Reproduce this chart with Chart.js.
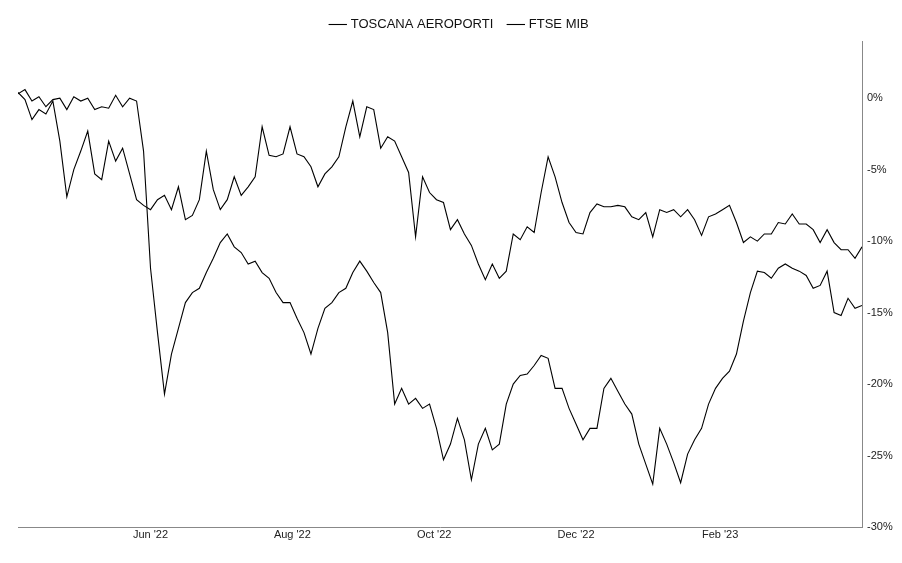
<!DOCTYPE html>
<html>
<head>
<meta charset="utf-8">
<script src="https://cdn.jsdelivr.net/npm/chart.js@4/dist/chart.umd.min.js"></script>
<style>
  html, body { margin: 0; padding: 0; background: #fff; }
  #wrap { width: 902px; height: 563px; }
</style>
</head>
<body>
<div id="wrap"><canvas id="myChart" width="902" height="563"></canvas></div>
<script>
// series names
let seriesNames = ["TOSCANA AEROPORTI", "FTSE MIB"];

// x tick labels and their position in days from the first point
let tickLabels = ["Jun '22", "Aug '22", "Oct '22", "Dec '22", "Feb '23"];
let tickDays = [57, 118, 179, 240, 302];

// y ticks (% change)
let yTicks = [0, -5, -10, -15, -20, -25, -30];

// % change, one value every 3 calendar days
let toscana = [
    0.3, 0.6, -0.2, 0.1, -0.6, -0.1, 0.0, -0.8, 0.1, -0.2,
    0.0, -0.8, -0.6, -0.7, 0.2, -0.6, 0.0, -0.2, -3.7, -11.9,
    -16.4, -20.7, -17.9, -16.1, -14.3, -13.6, -13.3, -12.2, -11.2, -10.1,
    -9.5, -10.4, -10.8, -11.6, -11.4, -12.2, -12.6, -13.6, -14.3, -14.3,
    -15.4, -16.4, -17.9, -16.1, -14.7, -14.3, -13.6, -13.3, -12.2, -11.4,
    -12.1, -12.9, -13.6, -16.4, -21.4, -20.3, -21.4, -21.0, -21.7, -21.4,
    -23.1, -25.3, -24.2, -22.4, -23.9, -26.7, -24.2, -23.1, -24.6, -24.2,
    -21.4, -20.0, -19.4, -19.3, -18.7, -18.0, -18.2, -20.3, -20.3, -21.7,
    -22.8, -23.9, -23.1, -23.1, -20.3, -19.6, -20.5, -21.4, -22.1, -24.2,
    -25.6, -27.0, -23.1, -24.2, -25.5, -26.9, -24.9, -23.9, -23.1, -21.4,
    -20.3, -19.6, -19.1, -17.9, -15.6, -13.6, -12.1, -12.2, -12.6, -11.9,
    -11.6, -11.9, -12.1, -12.4, -13.3, -13.1, -12.1, -15.0, -15.2, -14.0,
    -14.7, -14.5
];

let ftseMib = [
    0.4, -0.1, -1.5, -0.8, -1.1, -0.2, -3.0, -6.9, -5.0, -3.7,
    -2.3, -5.3, -5.7, -3.0, -4.4, -3.5, -5.3, -7.1, -7.5, -7.8,
    -7.1, -6.8, -7.8, -6.2, -8.5, -8.2, -7.1, -3.7, -6.4, -7.8,
    -7.1, -5.5, -6.8, -6.2, -5.5, -2.0, -4.0, -4.1, -3.9, -2.0,
    -3.9, -4.1, -4.8, -6.2, -5.3, -4.8, -4.1, -2.0, -0.2, -2.7,
    -0.6, -0.8, -3.5, -2.7, -3.0, -4.1, -5.2, -9.7, -5.5, -6.6,
    -7.1, -7.3, -9.2, -8.5, -9.5, -10.3, -11.6, -12.7, -11.6, -12.6,
    -12.1, -9.5, -9.9, -9.0, -9.4, -6.6, -4.1, -5.5, -7.3, -8.7,
    -9.4, -9.5, -8.0, -7.4, -7.6, -7.6, -7.5, -7.6, -8.3, -8.5,
    -8.0, -9.7, -7.8, -8.0, -7.8, -8.3, -7.8, -8.5, -9.6, -8.3,
    -8.1, -7.8, -7.5, -8.7, -10.1, -9.7, -10.0, -9.5, -9.5, -8.7,
    -8.8, -8.1, -8.8, -8.8, -9.2, -10.1, -9.2, -10.1, -10.6, -10.6,
    -11.2, -10.4
];

// build x/y points (x = days from start)
function toPoints(values) {
    let pts = [];
    for (let i = 0; i < values.length; i++) {
        pts.push({x: i * 3, y: values[i]});
    }
    return pts;
}

let ctx = document.getElementById("myChart");
let fontFam = "'Liberation Sans', Arial, sans-serif";

let myChart = new Chart(ctx, {
    type: 'line',
    data: {
        datasets: [{
            label: seriesNames[0],
            data: toPoints(toscana),
            borderColor: '#000',
            backgroundColor: '#000',
            borderWidth: 1.1,
            pointRadius: 0,
            tension: 0
        }, {
            label: seriesNames[1],
            data: toPoints(ftseMib),
            borderColor: '#000',
            backgroundColor: '#000',
            borderWidth: 1.1,
            pointRadius: 0,
            tension: 0
        }]
    },
    options: {
        responsive: false,
        animation: false,
        layout: {padding: {left: 18, right: 0, top: 2, bottom: 4}},
        plugins: {
            legend: {
                display: true,
                position: 'top',
                align: 'center',
                labels: {
                    usePointStyle: true,
                    pointStyle: 'line',
                    boxWidth: 14,
                    color: '#111',
                    font: {family: fontFam, size: 13},
                    padding: 16
                }
            },
            tooltip: {enabled: false}
        },
        scales: {
            x: {
                type: 'linear',
                min: 0,
                max: 363,
                grid: {display: false, drawTicks: false},
                border: {display: true, color: '#888', dash: [1, 3]},
                afterBuildTicks: function (scale) {
                    scale.ticks = tickDays.map(d => ({value: d}));
                },
                ticks: {
                    autoSkip: false,
                    maxRotation: 0,
                    color: '#222',
                    font: {family: fontFam, size: 11},
                    padding: 1,
                    callback: function (value) {
                        let i = tickDays.indexOf(value);
                        return i >= 0 ? tickLabels[i] : '';
                    }
                },
                afterFit: function (scale) { scale.height = 32; }
            },
            y: {
                position: 'right',
                min: -30,
                max: 4,
                grid: {display: false, drawTicks: false},
                border: {display: true, color: '#888', dash: [1, 3]},
                afterBuildTicks: function (scale) {
                    scale.ticks = yTicks.map(v => ({value: v}));
                },
                ticks: {
                    color: '#222',
                    font: {family: fontFam, size: 11},
                    padding: 5,
                    callback: function (value) { return value + '%'; }
                },
                afterFit: function (scale) { scale.width = 40; }
            }
        }
    }
});
</script>
</body>
</html>
